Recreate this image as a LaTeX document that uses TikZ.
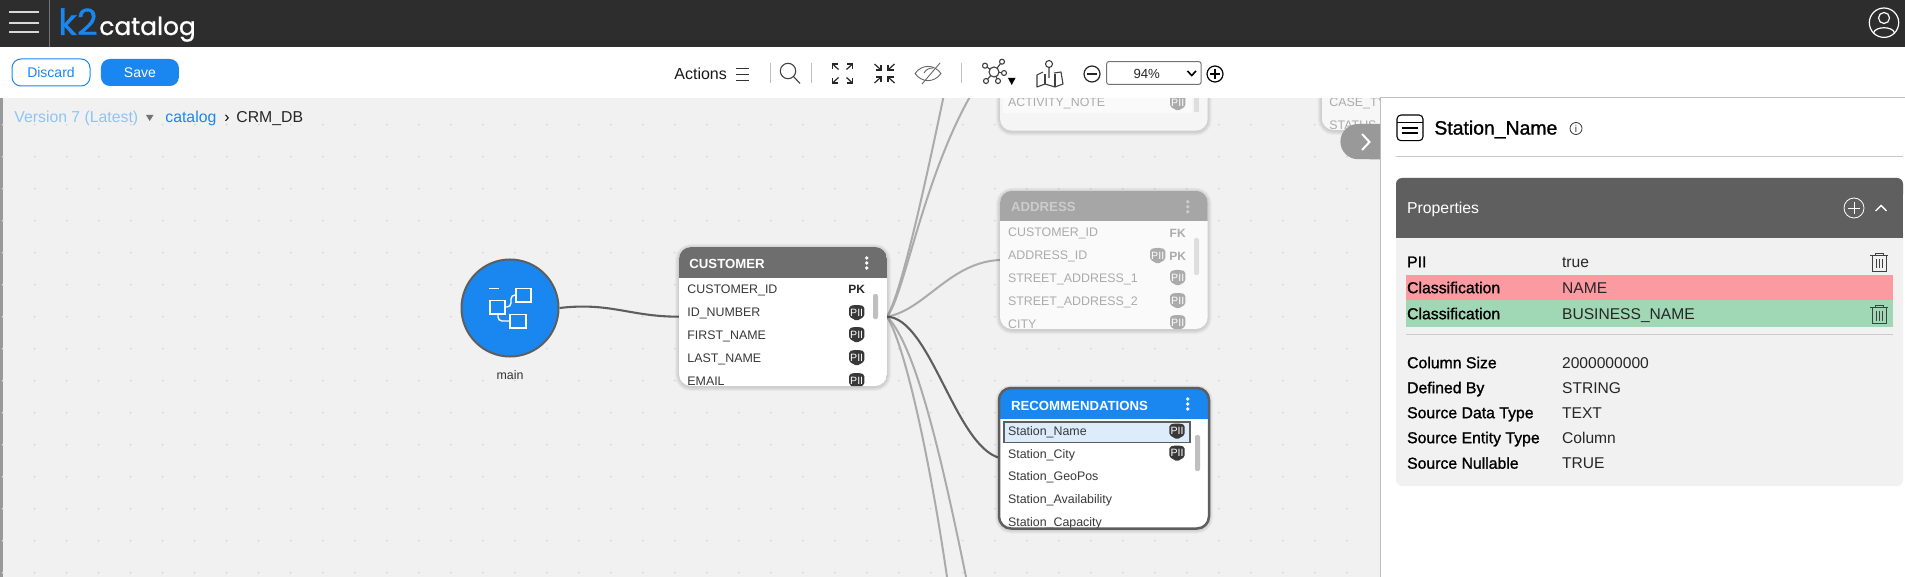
\documentclass[tikz,border=0pt]{standalone}
\usepackage{fontspec}
\setmainfont{Liberation Sans}
\newfontfamily\logofont[FakeBold=1]{Poppins}
\newfontfamily\labelfont[FakeBold=1.2]{Liberation Sans}
\usepackage{xcolor}
\usetikzlibrary{positioning}

\definecolor{barDark}{HTML}{2D2D2D}
\definecolor{k2Blue}{HTML}{1A87F0}
\definecolor{lightBlue}{HTML}{8FC4F5}
\definecolor{canvasGray}{HTML}{F1F1F1}
\definecolor{dotGray}{HTML}{D6D6D6}
\definecolor{headDark}{HTML}{6E6E6E}
\definecolor{headFade}{HTML}{A6A6A6}
\definecolor{textFade}{HTML}{ABABAB}
\definecolor{panelHead}{HTML}{5F5F5F}
\definecolor{linkDark}{HTML}{5E5E5E}
\definecolor{linkFade}{HTML}{ABABAB}
\definecolor{rowRed}{HTML}{FB9AA0}
\definecolor{rowGreen}{HTML}{A0D8B6}
\definecolor{rowSelect}{HTML}{DDECFB}

\newcommand{\fs}[1]{\fontsize{#1}{#1}\selectfont}

% shield badge: x, y, colour
\newcommand{\piibadge}[3]{
  \fill[#3, rounded corners=0.8pt] (#1-7.6,#2-6.5) -- (#1-3,#2-8) -- (#1+3,#2-8) -- (#1+7.6,#2-6.5) -- (#1+7.6,#2+3.5) -- (#1,#2+8) -- (#1-7.6,#2+3.5) -- cycle;
  \node[text=white, font=\fs{5.3}, inner sep=0pt] at (#1,#2-0.5) {PII};
}
% soft edge under a table: x1, y1, x2, y2
\newcommand{\softedge}[4]{
  \foreach \grow in {2,4,6,8}
    \draw[black, opacity=0.035, line width=\grow*0.5pt, rounded corners=6pt] (#1,#2+1) rectangle (#3,#4+1);
}
% three dots of a table head: x, y, colour
\newcommand{\headdots}[3]{
  \foreach \dy in {-5,0,5}
    \fill[#3] (#1,#2+\dy) circle[radius=1.9];
}
% bin: x, y
\newcommand{\binicon}[2]{
  \draw[black!75, line width=0.45pt] (#1-9,#2-6.5) -- (#1+9,#2-6.5)
    (#1-4,#2-6.5) -- (#1-4,#2-8.5) -- (#1+4,#2-8.5) -- (#1+4,#2-6.5)
    (#1-7,#2-6.5) -- (#1-7,#2+9.5) -- (#1+7,#2+9.5) -- (#1+7,#2-6.5)
    (#1-3,#2-3) -- (#1-3,#2+6.5) (#1,#2-3) -- (#1,#2+6.5) (#1+3,#2-3) -- (#1+3,#2+6.5);
}

\begin{document}
\begin{tikzpicture}[
    x=0.5pt, y=-0.5pt,
    every node/.style={inner sep=0pt},
    link/.style={line width=1pt, linkFade},
    linkOn/.style={line width=1.05pt, linkDark},
    rowtext/.style={anchor=base west, yshift=-2.6pt, font=\fs{6.2}, text=black!78},
    rowfade/.style={anchor=base west, yshift=-2.6pt, font=\fs{6.2}, text=textFade},
    headtext/.style={anchor=base west, yshift=-2.4pt, font=\fs{6.6}\bfseries, text=white},
    proplabel/.style={anchor=base west, yshift=-2.85pt, font=\fs{7.9}\labelfont, text=black},
    propvalue/.style={anchor=base west, yshift=-2.85pt, font=\fs{7.8}, text=black!85},
    crumbtext/.style={anchor=base west, yshift=-2.9pt, font=\fs{7.9}},
    toolicon/.style={black!75, line width=0.55pt},
    toolsep/.style={black!25, line width=0.5pt}
  ]
  \useasboundingbox (0,0) rectangle (1905,577);

  % Canvas
  \fill[canvasGray] (0,98) rectangle (1380,577);
  \fill[black!40] (0,98) rectangle (3,577);
  \foreach \dx in {0,...,42}
    \foreach \dy in {0,...,15}
      \fill[dotGray] (2.7+32*\dx,92.7+32*\dy) circle[radius=1];

  % Connectors
  \node[circle, fill=k2Blue, draw=linkDark, line width=1pt, minimum size=48.5pt] (mainNode) at (510,308) {};
  \node[below=6.5pt of mainNode, font=\fs{6.2}, text=black!80] (mainLabel) {main};
  \coordinate (customerIn) at (679,316.7);
  \coordinate (customerHub) at (887,316.7);
  \coordinate (addressIn) at (1000,260);
  \coordinate (recommendIn) at (999,457.7);
  \coordinate (upperA) at (980,80);
  \coordinate (upperB) at (947,80);
  \coordinate (lowerA) at (947,577);
  \coordinate (lowerB) at (966,577);

  \draw[linkOn] (mainNode.east) .. controls (610,302) and (630,316.7) .. (customerIn);
  \draw[link] (customerHub) .. controls (925,310) and (950,262) .. (addressIn);
  \draw[link] (customerHub) .. controls (905,295) and (925,165) .. (upperA);
  \draw[link] (customerHub) .. controls (900,295) and (920,210) .. (upperB);
  \draw[link] (customerHub) .. controls (905,345) and (930,460) .. (lowerA);
  \draw[link] (customerHub) .. controls (915,345) and (940,450) .. (lowerB);
  \draw[linkOn] (customerHub) .. controls (930,318) and (955,445) .. (recommendIn);

  % Main node icon
  \draw[white, line width=0.7pt] (489,288.7) -- (498.7,288.7);
  \draw[white, line width=0.7pt] (490,300.7) rectangle (505,314);
  \draw[white, line width=0.7pt] (516,288.5) rectangle (531,302);
  \draw[white, line width=0.7pt] (510,314.7) rectangle (526,328);
  \draw[white, line width=0.7pt, rounded corners=2pt] (505,307) -- (511,307) -- (511,295) -- (516,295);
  \draw[white, line width=0.7pt, rounded corners=2pt] (498,314) -- (498,321) -- (510,321);

  % Faded table at the top
  \softedge{1000}{60}{1207.7}{130.7}
  \begin{scope}
    \clip[rounded corners=6pt] (1000,60) rectangle (1207.7,130.7);
    \fill[black!4] (1000,60) rectangle (1207.7,130.7);
    \fill[black!2] (1003,60) rectangle (1192,113);
    \node[rowfade] (activityNote) at (1007.7,101.7) {ACTIVITY\_NOTE};
    \piibadge{1177.7}{103}{textFade}
    \fill[black!13] (1194,60) rectangle (1199,112);
  \end{scope}

  % Faded table at the right
  \softedge{1321.7}{60}{1500}{130}
  \begin{scope}
    \clip[rounded corners=6pt] (1321.7,60) rectangle (1500,130);
    \fill[black!3] (1321.7,60) rectangle (1500,130);
    \node[rowfade] (caseType) at (1329,101.7) {CASE\_TYPE};
    \node[rowfade] (statusRow) at (1329,124.5) {STATUS};
  \end{scope}

  % Address table
  \softedge{1000}{190.7}{1207.7}{329}
  \begin{scope}
    \clip[rounded corners=6pt] (1000,190.7) rectangle (1207.7,329);
    \fill[black!2] (1000,190.7) rectangle (1207.7,329);
    \fill[headFade] (1000,190.7) rectangle (1207.7,221);
    \node[headtext, text=black!20] (addressHead) at (1010.7,206.7) {ADDRESS};
    \headdots{1187.7}{206.7}{black!20}
    \foreach \rowy/\rowtext in {231.7/CUSTOMER\_ID, 254.7/ADDRESS\_ID, 277.7/STREET\_ADDRESS\_1, 300.7/STREET\_ADDRESS\_2, 323/CITY}
      \node[rowfade] at (1007.7,\rowy) {\rowtext};
    \node[font=\fs{6}\bfseries, text=textFade] (addressFK) at (1177.7,233) {FK};
    \node[font=\fs{6}\bfseries, text=textFade] (addressPK) at (1177.7,256) {PK};
    \piibadge{1157.7}{256}{textFade}
    \piibadge{1177.7}{278}{textFade}
    \piibadge{1177.7}{301}{textFade}
    \piibadge{1177.7}{323}{textFade}
    \fill[black!13, rounded corners=1pt] (1194,238) rectangle (1199,275);
  \end{scope}

  % Customer table
  \softedge{679}{247}{887}{386}
  \begin{scope}
    \clip[rounded corners=6pt] (679,247) rectangle (887,386);
    \fill[white] (679,247) rectangle (887,386);
    \fill[headDark] (679,247) rectangle (887,278);
    \node[headtext] (customerHead) at (689,263.5) {CUSTOMER};
    \headdots{866.7}{263}{white}
    \foreach \rowy/\rowtext in {288/CUSTOMER\_ID, 311.7/ID\_NUMBER, 334.5/FIRST\_NAME, 357.5/LAST\_NAME, 380.5/EMAIL}
      \node[rowtext] at (687,\rowy) {\rowtext};
    \node[font=\fs{6}\bfseries, text=black!85] (customerPK) at (856.7,289) {PK};
    \piibadge{856.7}{313}{black!78}
    \piibadge{856.7}{335}{black!78}
    \piibadge{856.7}{358}{black!78}
    \piibadge{856.7}{381}{black!78}
    \fill[black!25, rounded corners=1pt] (873,294) rectangle (878,319);
  \end{scope}

  % Recommendations table
  \softedge{999}{388}{1209}{528.5}
  \begin{scope}
    \clip[rounded corners=6pt] (999,388) rectangle (1209,528.5);
    \fill[white] (999,388) rectangle (1209,528.5);
    \fill[k2Blue] (999,388) rectangle (1209,419);
    \node[headtext] (recommendHead) at (1010.7,405.7) {RECOMMENDATIONS};
    \headdots{1187.7}{404}{white}
    \fill[rowSelect] (1004,422) rectangle (1190,442.7);
    \draw[linkDark, line width=0.7pt] (1004,422) rectangle (1190,442.7);
    \foreach \rowy/\rowtext in {430.7/Station\_Name, 453/Station\_City, 475.5/Station\_GeoPos, 498/Station\_Availability, 521/Station\_Capacity}
      \node[rowtext] at (1007.7,\rowy) {\rowtext};
    \piibadge{1177}{431.5}{black!78}
    \piibadge{1177}{453.5}{black!78}
    \fill[black!25, rounded corners=1pt] (1195,435) rectangle (1200,471);
  \end{scope}
  \draw[linkDark, line width=1.25pt, rounded corners=6pt] (999,388) rectangle (1209,528.5);

  % Top bars
  \fill[white] (0,47) rectangle (1905,98);
  \fill[barDark] (0,0) rectangle (1905,47);
  \foreach \bary in {12.5,23,32.5}
    \draw[black!15, line width=1pt] (9,\bary) -- (39,\bary);
  \draw[black!55, line width=0.5pt] (49.5,0) -- (49.5,47);
  \node[anchor=base west, font=\fs{18}\logofont, text=k2Blue] (logoMark) at (58,35) {k2};
  \node[anchor=base west, font=\fs{12.4}\logofont, text=white] (logoName) at (99,35) {catalog};
  \node[circle, draw=white, line width=0.6pt, minimum size=14.7pt] (userIcon) at (1884,22.7) {};
  \draw[white, line width=0.6pt] (1884,18) circle[radius=5.5];
  \draw[white, line width=0.6pt] (1873.5,33) .. controls (1875,26) and (1893,26) .. (1894.5,33);

  % Buttons
  \node[draw=k2Blue, fill=white, line width=0.5pt, rounded corners=4.5pt, minimum width=39pt, minimum height=13.5pt, font=\fs{7}, text=k2Blue] (discardButton) at (51,72.5) {Discard};
  \node[fill=k2Blue, rounded corners=4.5pt, minimum width=39pt, minimum height=13.5pt, font=\fs{7}, text=white, right=5pt of discardButton] (saveButton) {Save};

  % Toolbar
  \node[anchor=west, font=\fs{8}, text=black!90] (actionsLabel) at (674,74) {Actions};
  \foreach \bary in {68,74,80}
    \draw[black!80, line width=0.4pt] (736,\bary) -- (749,\bary);
  \foreach \sepx in {770.5,811.7,961.7}
    \draw[toolsep] (\sepx,63.5) -- (\sepx,83.5);
  \draw[toolicon] (788,71) circle[radius=7.7];
  \draw[toolicon] (793.5,76.5) -- (800,83.5);
  % expand and shrink
  \foreach \sx/\sy in {-1/-1,1/-1,-1/1,1/1}{
    \draw[black!85, line width=0.6pt] (842.5+4*\sx,73.5+4*\sy) -- (842.5+10*\sx,73.5+9.5*\sy);
    \draw[black!85, line width=0.6pt] (842.5+4.5*\sx,73.5+9.5*\sy) -- (842.5+10*\sx,73.5+9.5*\sy) -- (842.5+10*\sx,73.5+4.5*\sy);
    \draw[black!85, line width=0.6pt] (884.5+4*\sx,73.5+4*\sy) -- (884.5+10*\sx,73.5+9.5*\sy);
    \draw[black!85, line width=0.6pt] (884.5+3.5*\sx,73.5+8.5*\sy) -- (884.5+3.5*\sx,73.5+3.5*\sy) -- (884.5+9*\sx,73.5+3.5*\sy);
  }
  % eye
  \draw[black!60, line width=0.45pt] (915,73.5) .. controls (922,64) and (934,64) .. (941,73.5) .. controls (934,83) and (922,83) .. (915,73.5);
  \draw[black!60, line width=0.45pt] (922,84) -- (940,63);
  \draw[black!60, line width=0.45pt] (924,73) .. controls (926,69) and (930,68) .. (933,68);
  % network
  \draw[toolicon] (994,72) -- (985,65.7) (994,72) -- (1002,61.7) (994,72) -- (1004,73) (994,72) -- (986,81) (994,72) -- (998,81);
  \filldraw[toolicon, fill=white] (994,72) circle[radius=5];
  \foreach \netx/\nety in {985/65.7,1002/61.7,1004/73,986/81,998/81}
    \filldraw[toolicon, fill=white] (\netx,\nety) circle[radius=2.5];
  \fill[black] (1008,78) -- (1015.5,78) -- (1011.7,85) -- cycle;
  % map with pin
  \draw[toolicon, line join=round] (1043,72) -- (1037,75) -- (1037,87) -- (1045,84) -- (1055,87) -- (1063,84) -- (1061,72) -- (1054,73);
  \draw[toolicon] (1045,74) -- (1045,84) (1055,74) -- (1055,87);
  \draw[toolicon] (1049,64) circle[radius=3.5] (1049,67.5) -- (1049,78);
  % zoom box
  \draw[black!85, line width=0.6pt] (1092,74) circle[radius=8];
  \draw[black!85, line width=0.8pt] (1087,74) -- (1097,74);
  \draw[black!55, line width=0.5pt, rounded corners=1pt] (1106.7,61.7) rectangle (1201,84.3);
  \node[font=\fs{6.6}, text=black!85] (zoomValue) at (1146.7,73.5) {94\%};
  \draw[black, line width=0.8pt] (1187.5,71) -- (1191.7,75.5) -- (1196,71);
  \draw[black, line width=0.6pt] (1215,74) circle[radius=8];
  \draw[black, line width=0.8pt] (1210,74) -- (1220,74) (1215,69) -- (1215,79);

  % Breadcrumb
  \node[crumbtext, text=lightBlue] (versionLabel) at (14,117) {Version 7 (Latest)};
  \fill[black!55] (146,115) -- (153.5,115) -- (149.7,121) -- cycle;
  \node[crumbtext, text=k2Blue] (catalogLink) at (165,117) {catalog};
  \node[crumbtext, text=black] (crumbSep) at (224,117) {›};
  \node[crumbtext, text=black!85] (crmLabel) at (236,117) {CRM\_DB};

  % Side panel
  \fill[white] (1380,98) rectangle (1905,577);
  \draw[black!25, line width=0.5pt] (1380,577) -- (1380,98) -- (1905,98);
  \fill[black!40] (1380,124) -- (1358,124) arc[start angle=270, end angle=90, radius=17.6] -- (1380,159.3) -- cycle;
  \draw[white, line width=1pt] (1362,134) -- (1369.5,142) -- (1362,150);

  \draw[black, line width=0.55pt, rounded corners=2pt] (1397,115) rectangle (1423,140.7);
  \draw[black, line width=0.55pt] (1397,122.5) -- (1423,122.5);
  \draw[black, line width=0.6pt] (1402,128) -- (1418,128) (1402,133) -- (1418,133);
  \node[anchor=base west, yshift=-3.3pt, font=\fs{9.7}\labelfont, text=black] (stationTitle) at (1434,128) {Station\_Name};
  \draw[black!80, line width=0.4pt] (1576,128.5) circle[radius=6];
  \node[font=\fs{5}, text=black!80] (stationInfo) at (1576,128.5) {i};
  \draw[black!22, line width=0.5pt] (1396,157) -- (1903,157);

  % Properties box
  \fill[canvasGray, rounded corners=3pt] (1396,178) rectangle (1903,486);
  \fill[panelHead, rounded corners=3pt] (1396,178) rectangle (1903,200);
  \fill[panelHead] (1396,190) rectangle (1903,237.7);
  \node[anchor=base west, yshift=-2.85pt, font=\fs{7.9}, text=white] (propertiesHead) at (1406.7,208) {Properties};
  \draw[white, line width=0.4pt] (1854,208) circle[radius=10];
  \draw[white, line width=0.45pt] (1848,208) -- (1860,208) (1854,202) -- (1854,214);
  \draw[white, line width=0.7pt] (1875.5,211) -- (1881,205.5) -- (1886.5,211);

  \fill[rowRed] (1406,275) rectangle (1893,300);
  \fill[rowGreen] (1406,300) rectangle (1893,326.7);
  \draw[black!20, line width=0.5pt] (1406,334.3) -- (1893,334.3);

  \node[proplabel] (piiLabel) at (1406.7,261.7) {PII};
  \node[propvalue] (piiValue) at (1561.7,261.7) {true};
  \node[proplabel] (classRed) at (1406.7,287.5) {Classification};
  \node[propvalue] (classRedValue) at (1561.7,287.5) {NAME};
  \node[proplabel] (classGreen) at (1406.7,313.5) {Classification};
  \node[propvalue] (classGreenValue) at (1561.7,313.5) {BUSINESS\_NAME};
  \node[proplabel] (sizeLabel) at (1406.7,362.5) {Column Size};
  \node[propvalue] (sizeValue) at (1561.7,362.5) {2000000000};
  \node[proplabel] (definedLabel) at (1406.7,387.5) {Defined By};
  \node[propvalue] (definedValue) at (1561.7,387.5) {STRING};
  \node[proplabel] (dataLabel) at (1406.7,412.5) {Source Data Type};
  \node[propvalue] (dataValue) at (1561.7,412.5) {TEXT};
  \node[proplabel] (entityLabel) at (1406.7,437.5) {Source Entity Type};
  \node[propvalue] (entityValue) at (1561.7,437.5) {Column};
  \node[proplabel] (nullLabel) at (1406.7,463) {Source Nullable};
  \node[propvalue] (nullValue) at (1561.7,463) {TRUE};
  \binicon{1879}{262}
  \binicon{1879}{314}
\end{tikzpicture}
\end{document}
